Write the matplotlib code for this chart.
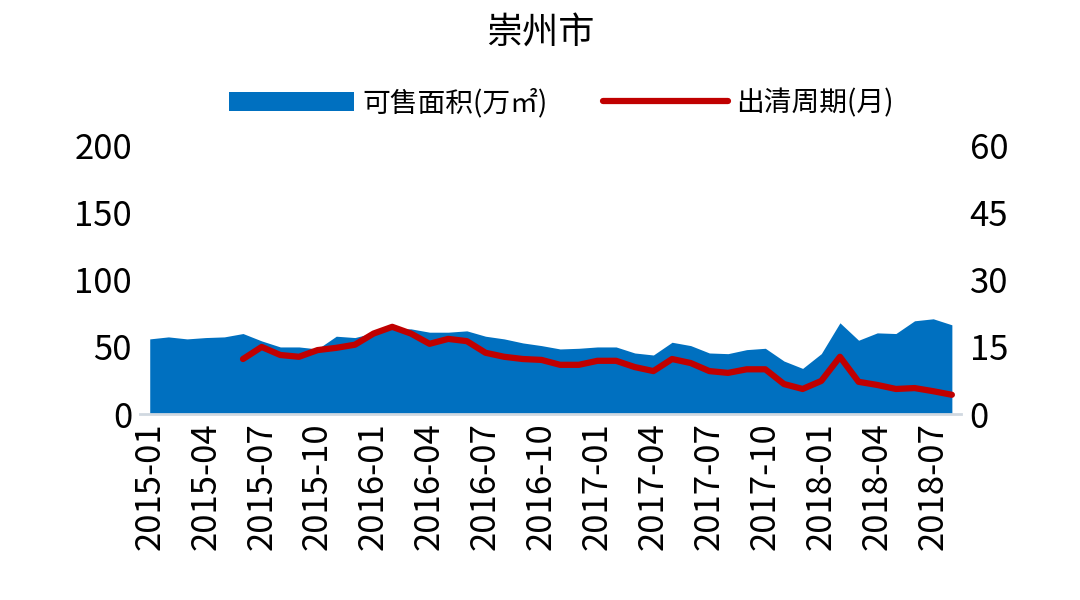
import pandas as pd
import matplotlib.pyplot as plt

plt.rcParams['font.family'] = ['Noto Sans CJK SC', 'DejaVu Sans']

months = pd.date_range('2015-01', periods=44, freq='MS').strftime('%Y-%m').tolist()

# 可售面积 (万㎡)
area = [56, 57.5, 56, 57, 57.5, 60, 54.5, 50, 50, 48.5, 58, 57,
        60.5, 63.5, 63.5, 61, 61, 62, 58, 56, 53, 51, 48.5, 49,
        50, 50, 45.5, 44, 53.5, 51, 45.5, 45, 48, 49, 39.5, 34,
        45, 68, 55, 60.5, 60, 69.5, 71, 66.5]

# 出清周期 (月), starts 2015-06
cycle = [None] * 5 + [12.3, 15, 13.2, 12.8, 14.3, 14.8, 15.5,
         18, 19.5, 18, 15.7, 16.8, 16.3, 13.7, 12.8, 12.3, 12.1, 11, 11,
         11.9, 11.9, 10.5, 9.6, 12.3, 11.4, 9.6, 9.2, 10, 10, 6.7, 5.6,
         7.4, 12.8, 7.2, 6.5, 5.6, 5.8, 5.1, 4.3]
cycle = [float('nan') if v is None else v for v in cycle]

fig = plt.figure(figsize=(10.8, 6), dpi=100)
ax = fig.add_axes([0.13, 0.31, 0.76, 0.447])
x = range(len(months))

ax.fill_between(x, area, color='#0070C0', lw=0, label='可售面积(万㎡)')
ax.set_ylim(0, 200)
ax.set_yticks([0, 50, 100, 150, 200])
ax.set_xlim(-0.5, len(months) - 0.5)
ax.set_xticks(list(x)[::3])
ax.set_xticklabels(months[::3], rotation=90)

ax2 = ax.twinx()
ax2.plot(x, cycle, color='#C00000', lw=4.5, label='出清周期(月)', solid_capstyle='round')
ax2.set_ylim(0, 60)
ax2.set_yticks([0, 15, 30, 45, 60])

for a in (ax, ax2):
    for s in a.spines.values():
        s.set_visible(False)
    a.tick_params(length=0, labelsize=25, pad=6)
ax.spines['bottom'].set_visible(True)
ax.spines['bottom'].set_color('#D0D8E0')
ax.spines['bottom'].set_linewidth(2)

fig.suptitle('崇州市', fontsize=26, y=0.975)
h1, l1 = ax.get_legend_handles_labels()
h2, l2 = ax2.get_legend_handles_labels()
fig.legend(h1 + h2, l1 + l2, loc='upper center', bbox_to_anchor=(0.52, 0.895),
           ncol=2, frameon=False, fontsize=20, handlelength=4.5,
           columnspacing=2.0, handletextpad=0.3)

fig.savefig('out.png')
